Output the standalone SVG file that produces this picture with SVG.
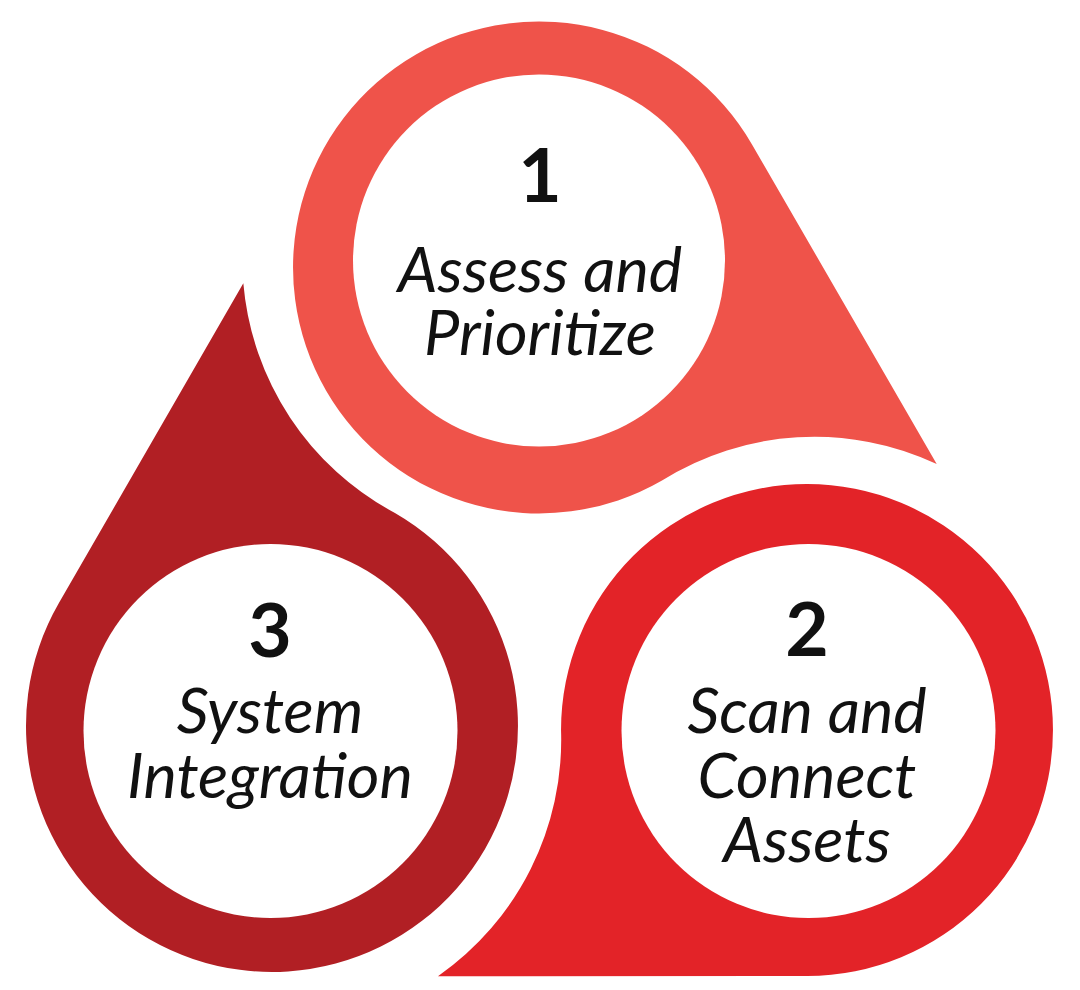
<svg xmlns="http://www.w3.org/2000/svg" width="1080" height="990" viewBox="0 0 1080 990">
<style>
.num{font-family:Lato,"Noto Sans","Liberation Sans",sans-serif;font-weight:700;font-size:75px;fill:#111;text-anchor:middle}
.lbl{font-family:Lato,"Noto Sans","Liberation Sans",sans-serif;font-style:italic;font-size:63px;fill:#111;text-anchor:middle}
.hole{fill:#fff}
.s1{fill:#EF534A}
.s2{fill:#E32328}
.s3{fill:#B11F24}
</style>
<defs>
<path id="drop" d="M397.7 196.5 L213 -123.1 A246 246 0 1 0 123 213 A288 288 0 0 1 397.7 196.5 Z"/>
</defs>
<rect width="1080" height="990" fill="#fff"/>
<g id="connectors"/>
<g id="step1">
<use href="#drop" class="s1" transform="translate(539 267.5)"/>
<circle class="hole" cx="539" cy="260.5" r="186"/>
<text class="num" x="540" y="202">1</text>
<text class="lbl" x="540" y="292">Assess and</text>
<text class="lbl" x="540" y="355">Prioritize</text>
</g>
<g id="step2">
<use href="#drop" class="s2" transform="translate(807 730) rotate(120)"/>
<circle class="hole" cx="808.5" cy="731" r="187"/>
<text class="num" x="807" y="656">2</text>
<text class="lbl" x="807" y="733">Scan and</text>
<text class="lbl" x="807" y="798">Connect</text>
<text class="lbl" x="807" y="862">Assets</text>
</g>
<g id="step3">
<use href="#drop" class="s3" transform="translate(272 726) rotate(240)"/>
<circle class="hole" cx="270.5" cy="731" r="187"/>
<text class="num" x="270" y="657">3</text>
<text class="lbl" x="270" y="733">System</text>
<text class="lbl" x="270" y="798">Integration</text>
</g>
</svg>
